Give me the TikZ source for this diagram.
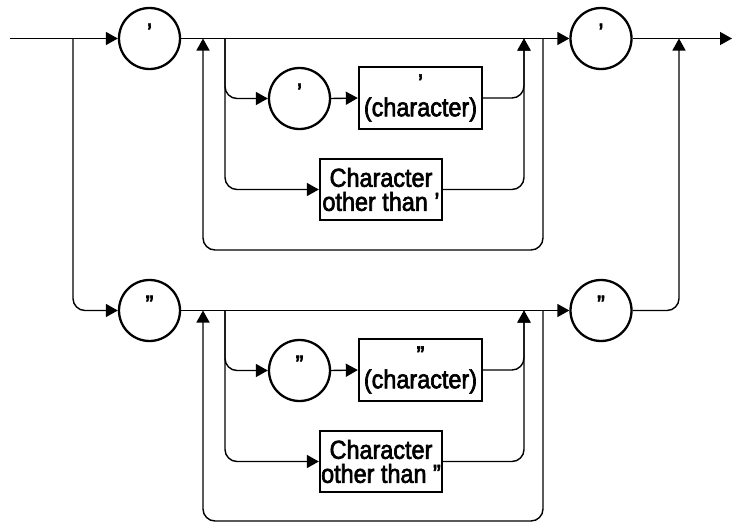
\documentclass[tikz,border=0pt]{standalone}
\usepackage{fontspec}
\setmainfont{Liberation Sans}[FakeStretch=0.9, FakeBold=2.5]
\usetikzlibrary{arrows.meta}
\begin{document}
\begin{tikzpicture}[x=1pt,y=-1pt,
  every node/.style={font=\fontsize{26}{24}\selectfont, inner sep=0pt},
  circ/.style={draw, circle, line width=2.3pt, minimum size=61pt, text height=12pt, text depth=6pt},
  boxn/.style={draw, rectangle, line width=2.3pt, align=center},
  conn/.style={line width=1.4pt, rounded corners=12pt},
  arr/.style={conn, -{Triangle[length=12pt,width=13pt]}}
]
\useasboundingbox (0,0) rectangle (732,522);

% ---------- upper block ----------
\coordinate (start) at (10,38.5);
\coordinate (split) at (73,38.5);
\node[circ] (c1) at (149.5,38.5) {’};
\coordinate (loopL) at (203,38.5);
\coordinate (brA) at (225,38.5);
\node[circ] (c2) at (299.5,98.5) {’};
\node[boxn, minimum width=123pt, minimum height=62pt] (b1) at (420.5,98) {’\\(character)};
\node[boxn, minimum width=122pt, minimum height=61pt] (b2) at (381,189.5) {Character\\other than ’};
\coordinate (mgA) at (524,38.5);
\coordinate (loopR) at (543,38.5);
\coordinate (loopRB) at (543,250);
\coordinate (loopLB) at (203,250);
\node[circ] (c3) at (601,38.5) {’};
\coordinate (fin) at (679,38.5);
\coordinate (stop) at (732,38.5);

% ---------- lower block ----------
\node[circ] (d1) at (149.5,310.5) {”};
\coordinate (loopL2) at (203,310.5);
\coordinate (brB) at (225,310.5);
\node[circ] (d2) at (299.5,370.5) {”};
\node[boxn, minimum width=123pt, minimum height=62pt] (e1) at (420.5,370) {”\\(character)};
\node[boxn, minimum width=122pt, minimum height=61pt] (e2) at (381,461.5) {Character\\other than ”};
\coordinate (mgB) at (524,310.5);
\coordinate (loopR2) at (543,310.5);
\coordinate (loopRB2) at (543,521);
\coordinate (loopLB2) at (203,521);
\node[circ] (d3) at (601,310.5) {”};

% ---------- connectors upper ----------
\draw[arr] (start) -- (c1.west);
\draw[arr] (c1.east) -- (c3.west);
\draw[arr] (loopR) -- (loopRB) -- (loopLB) -- (loopL);
\draw[arr] (brA) |- (c2.west);
\draw[arr] (brA) |- (b2.west);
\draw[arr] (c2.east) -- (b1.west);
\draw[arr] (b1.east) -| (mgA);
\draw[arr] (b2.east) -| (mgA);
\draw[arr] (c3.east) -- (stop);

% ---------- connectors lower ----------
\draw[arr] (split) |- (d1.west);
\draw[arr] (d1.east) -- (d3.west);
\draw[arr] (loopR2) -- (loopRB2) -- (loopLB2) -- (loopL2);
\draw[arr] (brB) |- (d2.west);
\draw[arr] (brB) |- (e2.west);
\draw[arr] (d2.east) -- (e1.west);
\draw[arr] (e1.east) -| (mgB);
\draw[arr] (e2.east) -| (mgB);
\draw[arr] (d3.east) -| (fin);
\end{tikzpicture}
\end{document}
